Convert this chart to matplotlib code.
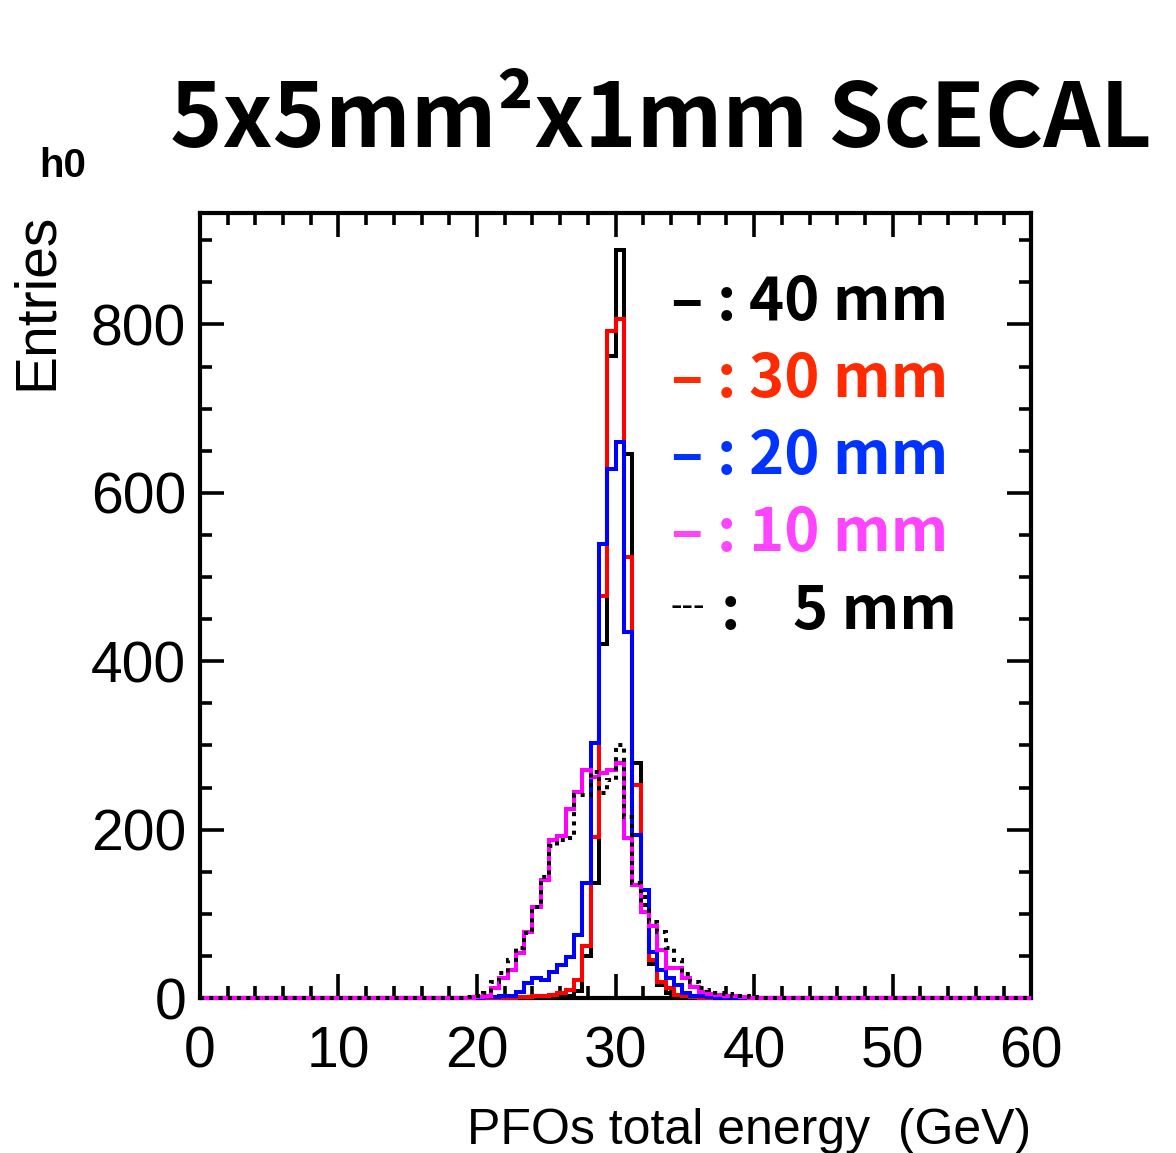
import numpy as np
import matplotlib.pyplot as plt
from matplotlib.ticker import MultipleLocator

# 100 bins over 0-60 GeV; counts below start at bin 32 (19.2 GeV)
first_bin = 32
counts_40mm = [0, 0, 0, 0, 0, 0, 0, 1, 1, 1, 2, 2, 3, 8, 50, 137, 420, 762, 888, 646,
               279, 120, 40, 15, 6, 3, 2, 1, 0, 0, 0, 0, 0, 0, 0]
counts_30mm = [0, 0, 0, 0, 0, 0, 1, 1, 2, 3, 4, 6, 10, 21, 62, 191, 477, 792, 806, 524,
               253, 110, 45, 19, 12, 4, 2, 1, 0, 0, 0, 0, 0, 0, 0]
counts_20mm = [0, 0, 1, 1, 2, 3, 7, 18, 24, 21, 31, 39, 49, 75, 137, 303, 539, 628, 660, 435,
               194, 128, 55, 33, 24, 15, 6, 3, 2, 1, 0, 0, 0, 0, 0]
counts_10mm = [0, 1, 3, 12, 24, 33, 53, 78, 108, 140, 188, 192, 224, 245, 271, 263, 267, 271, 279, 190,
               134, 102, 85, 57, 36, 36, 24, 13, 7, 5, 4, 3, 2, 1, 0]
counts_5mm = [1, 3, 6, 19, 30, 45, 59, 77, 108, 144, 180, 188, 190, 241, 241, 268, 244, 259, 301, 215,
              137, 110, 90, 78, 60, 45, 29, 19, 12, 10, 6, 5, 3, 2, 1]

legend_labels = ["40 mm", "30 mm", "20 mm", "10 mm", "5 mm"]
line_colors = ["black", "#ff0000", "#0000ff", "#ff00ff", "black"]
text_colors = ["black", "#ff2a00", "#0033ff", "#ff44ff", "black"]

edges = np.linspace(0, 60, 101)


def full(counts):
    v = np.zeros(100)
    v[first_bin:first_bin + len(counts)] = counts
    return v


fig = plt.figure(figsize=(11.76, 11.53), dpi=100)
ax = fig.add_axes([0.170, 0.1344, 0.707, 0.6809])

series = [counts_40mm, counts_30mm, counts_20mm, counts_10mm, counts_5mm]
for i, c in enumerate(series):
    ls = (0, (1.0, 1.3)) if i == 4 else "-"
    ax.stairs(full(c), edges, color=line_colors[i], lw=2.9, linestyle=ls,
              zorder=3 + i, clip_on=False)

ax.set_xlim(0, 60)
ax.set_ylim(0, max(counts_40mm) * 1.05)

ax.xaxis.set_major_locator(MultipleLocator(10))
ax.xaxis.set_minor_locator(MultipleLocator(2))
ax.yaxis.set_major_locator(MultipleLocator(200))
ax.yaxis.set_minor_locator(MultipleLocator(50))
ax.tick_params(which="both", direction="in", top=True, right=True, width=2.6, colors="black")
ax.tick_params(which="major", length=17)
ax.tick_params(which="minor", length=8.5)
ax.tick_params(axis="x", which="major", pad=20)
ax.tick_params(axis="y", which="major", pad=10)
for lab in ax.get_xticklabels() + ax.get_yticklabels():
    lab.set_fontfamily("Liberation Sans")
    lab.set_fontsize(41)
for s in ax.spines.values():
    s.set_linewidth(3)

# title and labels
lfont = ["Noto Sans CJK JP", "DejaVu Sans"]
fig.text(0.1446, 0.8725, "5x5mm²x1mm ScECAL", fontsize=64, fontweight="bold",
         family=lfont, ha="left", va="baseline")
fig.text(0.033, 0.8465, "h0", fontsize=29, fontweight="bold", family="Liberation Sans",
         ha="left", va="baseline")
fig.text(0.0315, 0.8153, "Entries", fontsize=41, family="Liberation Sans", rotation=90,
         ha="center", va="top")
fig.text(0.8767, 0.0075, "PFOs total energy  (GeV)", fontsize=36, family="Liberation Sans",
         ha="right", va="baseline")

# legend drawn as text rows
row_y = [0.864, 0.766, 0.668, 0.569, 0.470]
for i, lab in enumerate(legend_labels):
    y = row_y[i]
    col = text_colors[i]
    kw = dict(color=col, fontsize=43, fontweight="bold", family=lfont,
              transform=ax.transAxes, va="baseline")
    if i < 4:
        ax.text(0.566, y, "–", **kw)
        ax.text(0.622, y, ":", **kw)
        ax.text(0.661, y, lab, **kw)
    else:
        ax.text(0.566, y + 0.016, "---", color=col, fontsize=24, family=lfont,
                transform=ax.transAxes, va="baseline")
        ax.text(0.627, y, ":", **kw)
        ax.text(0.713, y, lab, **kw)

fig.savefig("out.png", dpi=100)
